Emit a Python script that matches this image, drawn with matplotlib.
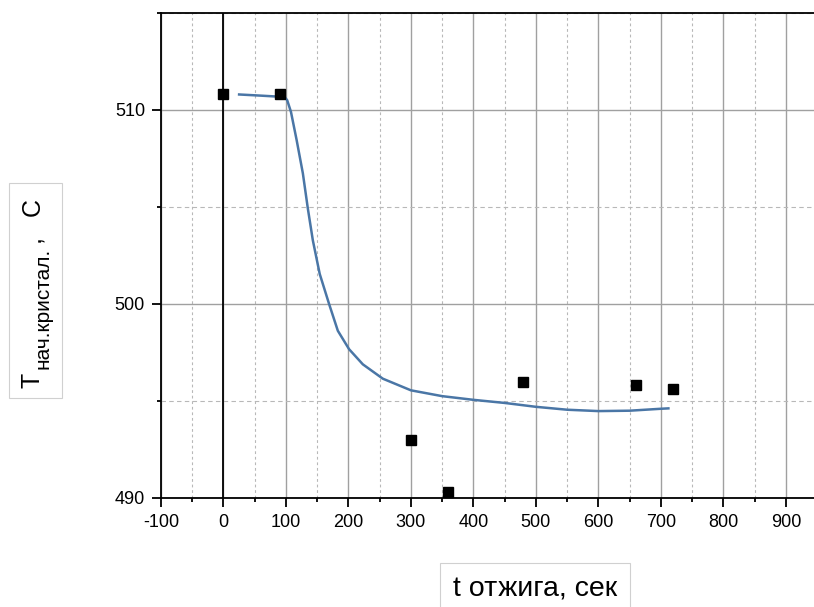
import numpy as np
import matplotlib.pyplot as plt
from matplotlib.patches import Rectangle
from matplotlib.ticker import MultipleLocator

plt.rcParams['font.family'] = ['Liberation Sans', 'DejaVu Sans']
plt.rcParams['axes.unicode_minus'] = False

# measured points
t_anneal = [0, 90, 300, 360, 480, 660, 720]
t_cryst = [510.8, 510.8, 493.0, 490.3, 496.0, 495.8, 495.6]

# fitted curve
fit_t = [25, 60, 98, 102, 108, 117, 127, 135, 143, 154, 169, 183, 201, 223,
         255, 300, 350, 400, 450, 500, 550, 600, 650, 700, 712]
fit_T = [510.8, 510.74, 510.67, 510.5, 509.9, 508.46, 506.74, 504.92, 503.28,
         501.55, 500.0, 498.62, 497.67, 496.89, 496.15, 495.55, 495.25, 495.06,
         494.9, 494.7, 494.55, 494.48, 494.5, 494.6, 494.62]

W, H = 814, 607


def fx(px):
    return px / W


def fy(py):
    return 1 - py / H


fig = plt.figure(figsize=(W / 100, H / 100), dpi=100)
ax = fig.add_axes([fx(161), fy(498), fx(653), 485 / H])

ax.plot(fit_t, fit_T, color='#4a76a6', linewidth=1.8, zorder=3,
        solid_joinstyle='round')
ax.plot(t_anneal, t_cryst, linestyle='none', marker='s', markersize=7,
        color='black', zorder=4)

ax.axvline(0, color='black', linewidth=1.3, zorder=2)

ax.set_xlim(-100, 945)
ax.set_ylim(490, 515)
ax.xaxis.set_major_locator(MultipleLocator(100))
ax.xaxis.set_minor_locator(MultipleLocator(50))
ax.yaxis.set_major_locator(MultipleLocator(10))
ax.yaxis.set_minor_locator(MultipleLocator(5))

ax.grid(True, which='major', color='#a0a0a0', linestyle='-', linewidth=1.0)
ax.xaxis.grid(True, which='minor', color='#b8b8b8', linestyle=(0, (2.5, 2.5)), linewidth=0.8)
ax.yaxis.grid(True, which='minor', color='#b8b8b8', linestyle=(0, (4, 3)), linewidth=0.8)
ax.set_axisbelow(True)

ax.spines['right'].set_visible(False)
for s in ['left', 'bottom', 'top']:
    ax.spines[s].set_linewidth(1.3)

ax.tick_params(which='major', direction='out', length=6.5, width=1.3,
               labelsize=13, pad=5)
ax.tick_params(which='minor', direction='out', length=3, width=1.3)

# y label: T with a subscript, inside a thin box
fig.patches.append(Rectangle((fx(9), fy(398)), fx(53), 215 / H,
                             transform=fig.transFigure, facecolor='white',
                             edgecolor='#d0d0d0', linewidth=0.8))
ylab = dict(rotation=90, rotation_mode='anchor', ha='left', va='baseline')
fig.text(fx(40), fy(388), 'T', fontsize=18, **ylab)
fig.text(fx(48), fy(369), 'нач.кристал.', fontsize=15, **ylab)
fig.text(fx(40), fy(242), ',', fontsize=18, **ylab)
fig.text(fx(40), fy(216), 'C', fontsize=18, **ylab)

fig.text(fx(535), fy(589), 't отжига, сек', ha='center', va='center',
         fontsize=20.5,
         bbox=dict(boxstyle='square,pad=0.45', facecolor='white',
                   edgecolor='#d0d0d0', linewidth=0.8))

plt.savefig('out.png', dpi=100)
